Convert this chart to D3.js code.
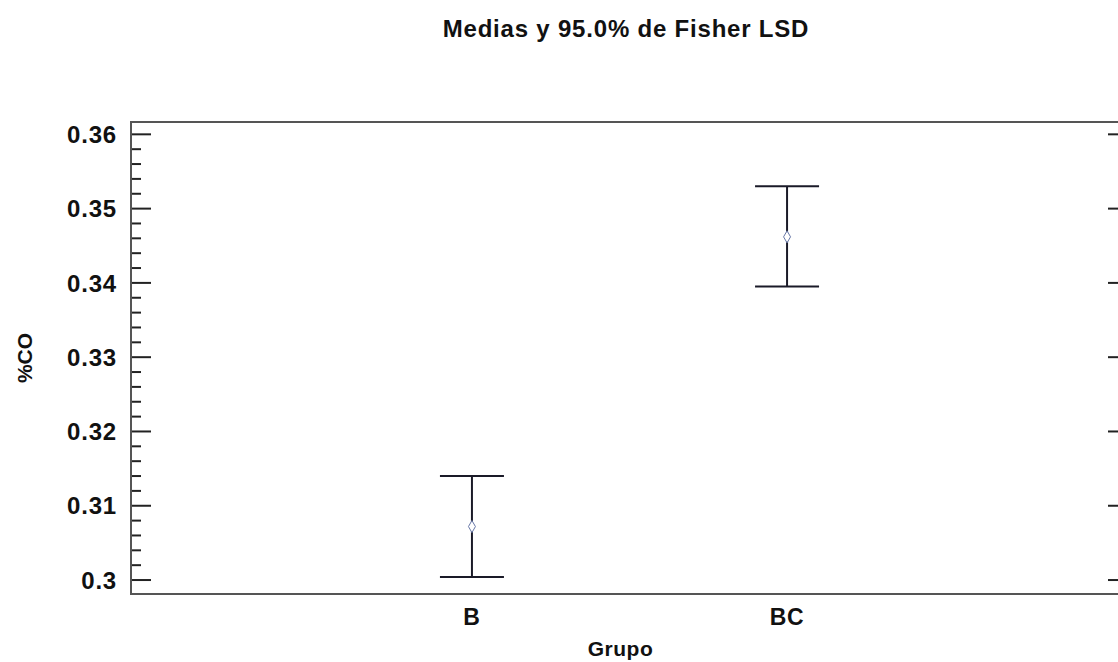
<!DOCTYPE html>
<html>
<head>
<meta charset="utf-8">
<script src="https://cdn.jsdelivr.net/npm/d3@7/dist/d3.min.js"></script>
<style>
  html, body { margin: 0; padding: 0; background: #fff; }
  svg { display: block; font-family: "Liberation Sans", Arial, sans-serif; }
</style>
</head>
<body>
<div id="chart"></div>
<script>
const categories = ["B", "BC"];
const means = [0.3072, 0.3462];
const lower = [0.3004, 0.3395];
const upper = [0.3140, 0.3530];
const yTicks = [0.30, 0.31, 0.32, 0.33, 0.34, 0.35, 0.36];
const yTickLabels = ["0.3", "0.31", "0.32", "0.33", "0.34", "0.35", "0.36"];
const title = "Medias y 95.0% de Fisher LSD";
const xTitle = "Grupo";
const yTitle = "%CO";

const W = 1118, H = 662;
const margin = { left: 131, top: 122, right: -10, bottom: 68 };
const x0 = margin.left, x1 = W - margin.right;
const y0 = margin.top, y1 = H - margin.bottom;

const svg = d3.select("#chart").append("svg").attr("width", W).attr("height", H);

const x = d3.scalePoint().domain(categories).range([x0, x1]).padding(1.082);
const y = d3.scaleLinear().domain([0.29812, 0.36166]).range([y1, y0]);

const minorTicks = d3.range(0, 31).map(i => +(0.30 + i * 0.002).toFixed(4)).filter(v => !yTicks.some(t => Math.abs(t - v) < 1e-9));

// left axis
const gL = svg.append("g").attr("transform", `translate(${x0},0)`);
gL.selectAll("line.maj").data(yTicks).join("line")
  .attr("x1", 0).attr("x2", 20).attr("y1", d => y(d)).attr("y2", d => y(d))
  .attr("stroke", "#222").attr("stroke-width", 2);
gL.selectAll("line.min").data(minorTicks).join("line")
  .attr("x1", 0).attr("x2", 10).attr("y1", d => y(d)).attr("y2", d => y(d))
  .attr("stroke", "#222").attr("stroke-width", 2);
gL.selectAll("text").data(yTicks).join("text")
  .attr("x", -14).attr("y", d => y(d)).attr("dy", "0.36em")
  .attr("text-anchor", "end").attr("font-size", 24).attr("letter-spacing", "0.8px")
  .attr("font-weight", "bold").attr("fill", "#111")
  .text((d, i) => yTickLabels[i]);

// right axis
const gR = svg.append("g").attr("transform", `translate(${x1},0)`);
gR.selectAll("line.maj").data(yTicks).join("line")
  .attr("x1", 0).attr("x2", -20).attr("y1", d => y(d)).attr("y2", d => y(d))
  .attr("stroke", "#222").attr("stroke-width", 2);
gR.selectAll("line.min").data(minorTicks).join("line")
  .attr("x1", 0).attr("x2", -10).attr("y1", d => y(d)).attr("y2", d => y(d))
  .attr("stroke", "#222").attr("stroke-width", 2);

// frame
svg.append("rect").attr("x", x0).attr("y", y0).attr("width", x1 - x0).attr("height", y1 - y0)
  .attr("fill", "none").attr("stroke", "#555").attr("stroke-width", 2);

// x tick labels
svg.selectAll("text.xl").data(categories).join("text")
  .attr("x", d => x(d)).attr("y", y1 + 31)
  .attr("text-anchor", "middle").attr("font-size", 23).attr("letter-spacing", "0.8px")
  .attr("font-weight", "bold").attr("fill", "#111")
  .text(d => d);

// intervals
const capHalf = 32;
const g = svg.append("g");
categories.forEach((c, i) => {
  const cx = x(c);
  g.append("line").attr("x1", cx).attr("x2", cx).attr("y1", y(upper[i])).attr("y2", y(lower[i]))
    .attr("stroke", "#1a1a28").attr("stroke-width", 2);
  g.append("line").attr("x1", cx - capHalf).attr("x2", cx + capHalf).attr("y1", y(upper[i])).attr("y2", y(upper[i]))
    .attr("stroke", "#1a1a28").attr("stroke-width", 2);
  g.append("line").attr("x1", cx - capHalf).attr("x2", cx + capHalf).attr("y1", y(lower[i])).attr("y2", y(lower[i]))
    .attr("stroke", "#1a1a28").attr("stroke-width", 2);
  g.append("path").attr("d", d3.symbol(d3.symbolDiamond, 42)())
    .attr("transform", `translate(${cx},${y(means[i])})`)
    .attr("fill", "#fff").attr("stroke", "#6878a8").attr("stroke-width", 1);
});

// titles
svg.append("text").attr("x", 626).attr("y", 37).attr("text-anchor", "middle")
  .attr("font-size", 24).attr("letter-spacing", "0.8px")
  .attr("font-weight", "bold").attr("fill", "#111").text(title);
svg.append("text").attr("x", (x0 + x1) / 2 - 9).attr("y", 656).attr("text-anchor", "middle")
  .attr("font-size", 21).attr("letter-spacing", "0.5px")
  .attr("font-weight", "bold").attr("fill", "#111").text(xTitle);
svg.append("text").attr("transform", `translate(32,${(y0 + y1) / 2}) rotate(-90)`).attr("text-anchor", "middle")
  .attr("font-size", 21).attr("font-weight", "bold").attr("fill", "#111").text(yTitle);
</script>
</body>
</html>
